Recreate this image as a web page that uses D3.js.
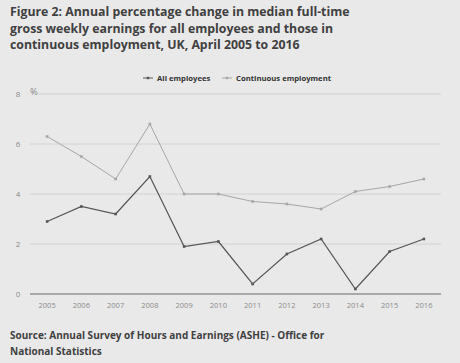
<!DOCTYPE html>
<html>
<head>
<meta charset="utf-8">
<script src="https://cdn.jsdelivr.net/npm/d3@7"></script>
<style>
  body { margin: 0; background: #e9e9e9; }
  svg { display: block; font-family: "Open Sans", sans-serif; }
</style>
</head>
<body>
<div id="chart"></div>
<script>
var years = ["2005", "2006", "2007", "2008", "2009", "2010", "2011", "2012", "2013", "2014", "2015", "2016"];
var allEmployees = [2.9, 3.5, 3.2, 4.7, 1.9, 2.1, 0.4, 1.6, 2.2, 0.2, 1.7, 2.2];
var continuous = [6.3, 5.5, 4.6, 6.8, 4.0, 4.0, 3.7, 3.6, 3.4, 4.1, 4.3, 4.6];
var yTicks = [0, 2, 4, 6, 8];
var titleLines = [
    "Figure 2: Annual percentage change in median full-time",
    "gross weekly earnings for all employees and those in",
    "continuous employment, UK, April 2005 to 2016"
];
var sourceLines = [
    "Source: Annual Survey of Hours and Earnings (ASHE) - Office for",
    "National Statistics"
];

var width = 460, height = 363;
var margin = { top: 94, right: 19, bottom: 69, left: 30 };

var svg = d3.select("#chart").append("svg")
    .attr("width", width)
    .attr("height", height);

svg.append("rect").attr("width", width).attr("height", height).attr("fill", "#e9e9e9");

svg.append("g").selectAll("text")
    .data(titleLines)
    .enter().append("text")
    .attr("x", 10)
    .attr("y", function (d, i) { return 16 + i * 16.5; })
    .attr("fill", "#404040")
    .style("font-size", "12.3px")
    .style("font-weight", "bold")
    .text(function (d) { return d; });

svg.append("g").selectAll("text")
    .data(sourceLines)
    .enter().append("text")
    .attr("x", 10)
    .attr("y", function (d, i) { return 339 + i * 16; })
    .attr("fill", "#404040")
    .style("font-size", "10px")
    .style("font-weight", "bold")
    .text(function (d) { return d; });

var x = d3.scaleBand().domain(years).range([margin.left, width - margin.right]);
var y = d3.scaleLinear().domain([0, 8]).range([height - margin.bottom, margin.top]);

var g = svg.append("g");

// gridlines (the top one leaves room for the % unit)
g.selectAll(".grid")
    .data(yTicks.filter(function (d) { return d > 0; }))
    .enter().append("line")
    .attr("x1", function (d) { return d === 8 ? margin.left + 8 : margin.left; })
    .attr("x2", width - margin.right)
    .attr("y1", function (d) { return y(d); })
    .attr("y2", function (d) { return y(d); })
    .attr("stroke", "#d2d2d2")
    .attr("stroke-width", 1);

g.append("line")
    .attr("x1", margin.left).attr("x2", width - margin.right)
    .attr("y1", y(0)).attr("y2", y(0))
    .attr("stroke", "#a8a8a8")
    .attr("stroke-width", 2);

g.selectAll(".ylab")
    .data(yTicks)
    .enter().append("text")
    .attr("x", 18)
    .attr("y", function (d) { return y(d) + 3; })
    .attr("text-anchor", "middle")
    .attr("fill", "#8a8a8a")
    .style("font-size", "8px")
    .text(function (d) { return d; });

g.append("text")
    .attr("x", 30).attr("y", y(8) + 1)
    .attr("fill", "#8a8a8a")
    .style("font-size", "9.5px")
    .text("%");

g.selectAll(".xlab")
    .data(years)
    .enter().append("text")
    .attr("x", function (d) { return x(d) + x.bandwidth() / 2; })
    .attr("y", y(0) + 14)
    .attr("text-anchor", "middle")
    .attr("fill", "#8a8a8a")
    .style("font-size", "7.5px")
    .text(function (d) { return d; });

var series = [
    { name: "All employees", values: allEmployees, color: "#555555", width: 1.2 },
    { name: "Continuous employment", values: continuous, color: "#a6a6a6", width: 1 }
];

var line = d3.line()
    .x(function (d, i) { return x(years[i]) + x.bandwidth() / 2; })
    .y(function (d) { return y(d); });

series.forEach(function (s) {
    g.append("path")
        .attr("d", line(s.values))
        .attr("fill", "none")
        .attr("stroke", s.color)
        .attr("stroke-width", s.width);
    g.selectAll(null)
        .data(s.values)
        .enter().append("rect")
        .attr("x", function (d, i) { return x(years[i]) + x.bandwidth() / 2 - 1.3; })
        .attr("y", function (d) { return y(d) - 1.3; })
        .attr("width", 2.6).attr("height", 2.6)
        .attr("fill", s.color);
});

// legend
var legendX = [143, 222];
var leg = svg.append("g").selectAll("g")
    .data(series)
    .enter().append("g")
    .attr("transform", function (d, i) { return "translate(" + legendX[i] + ",78)"; });
leg.append("line")
    .attr("x1", 0).attr("x2", 10)
    .attr("stroke", function (d) { return d.color; })
    .attr("stroke-width", 1);
leg.append("rect")
    .attr("x", 3.8).attr("y", -1.2).attr("width", 2.4).attr("height", 2.4)
    .attr("fill", function (d) { return d.color; });
leg.append("text")
    .attr("x", 14).attr("y", 3)
    .attr("fill", "#333")
    .style("font-size", "7.7px")
    .style("font-weight", "bold")
    .text(function (d) { return d.name; });
</script>
</body>
</html>
